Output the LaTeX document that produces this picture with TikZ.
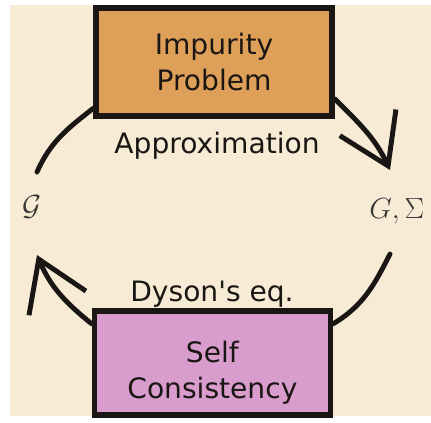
\documentclass[tikz,border=0pt]{standalone}
\usepackage{fontspec}
\newfontfamily\boxfont{DejaVu Sans}
\usepackage{xcolor}
\definecolor{cream}{RGB}{248,235,214}
\definecolor{impurity}{RGB}{222,160,88}
\definecolor{selfcons}{RGB}{216,157,205}
\definecolor{dark}{RGB}{26,22,20}
\usepackage{tikz}
\usetikzlibrary{
    arrows.meta,
    positioning,
    calc
}
\usepackage{amsmath, amssymb}

\begin{document}
\begin{tikzpicture}[
        box/.style={rectangle, draw=dark, line width=4pt, fill=#1, minimum width=5.9cm, minimum height=2.7cm, align=center, font=\boxfont\fontsize{20}{25.5}\selectfont, text=dark},
        lbl/.style={font=\boxfont\fontsize{20}{24}\selectfont, text=dark, anchor=base},
        sym/.style={font=\fontsize{22}{24}\selectfont, text=dark!85, anchor=base},
        arc/.style={line width=3.5pt, dark, line cap=round},
        cyc/.style={arc, -{Straight Barb[length=34pt, width=44pt, line width=3.5pt]}}
    ]
        \useasboundingbox (0,0) rectangle (10.775,-10.55);
        \fill[cream] (0.25,-0.125) rectangle (10.775,-10.4);

        \node[box=impurity] (imp) at (5.35,-1.55) {Impurity\\Problem};
        \node[box=selfcons, minimum height=2.6cm] (sc) at (5.31,-9.075) {\rule{0pt}{29pt}Self\\Consistency};

        \node[lbl] (approx) at (5.425,-3.825) {Approximation};
        \node[lbl] (dyson) at (5.3,-7.525) {Dyson's eq.};

        \node[sym] (gloc) at (0.8,-5.375) {$\mathcal{G}$};
        \node[sym] (gsig) at (9.92,-5.45) {$G,\Sigma$};

        \coordinate (gtop) at (0.925,-4.3);
        \coordinate (gbot) at (0.925,-6.375);
        \coordinate (stop) at (9.75,-4.25);
        \coordinate (sbot) at (9.75,-6.35);

        \draw[arc] (imp.201) to[out=218, in=66] (gtop);
        \draw[cyc] (imp.-17) to[out=-45, in=115] (stop);
        \draw[arc] (sbot) to[out=243, in=31] (sc.18);
        \draw[cyc] (sc.162) to[out=141, in=-67] (gbot);
    \end{tikzpicture}
\end{document}
